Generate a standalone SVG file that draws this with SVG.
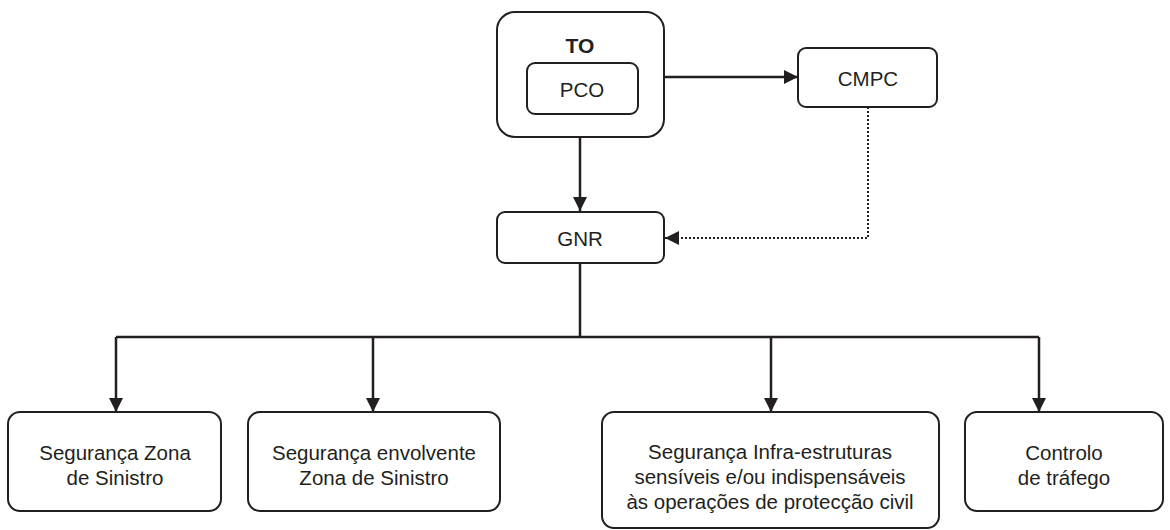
<svg xmlns="http://www.w3.org/2000/svg" width="1170" height="530" viewBox="0 0 1170 530">
<defs>
<marker id="a" viewBox="0 0 14 14" refX="14" refY="7" markerWidth="14" markerHeight="14" markerUnits="userSpaceOnUse" orient="auto">
<path d="M0,0 L14,7 L0,14 z" fill="#231f20"/>
</marker>
</defs>
<style>
.box{fill:#fff;stroke:#231f20;stroke-width:2}
.t{font-family:"Liberation Sans",Arial,sans-serif;font-size:20.5px;fill:#231f20;text-anchor:middle}
.b{font-weight:bold;font-size:21px}
.c{fill:none;stroke:#231f20;stroke-width:2.5}
.d{fill:none;stroke:#231f20;stroke-width:2;stroke-dasharray:2 2}
</style>
<rect width="1170" height="530" fill="#fff"/>
<g id="connectors">
<path class="c" d="M664,77 H798" marker-end="url(#a)"/>
<path class="c" d="M580,137 V211" marker-end="url(#a)"/>
<path class="d" d="M868,107 V238 H665" marker-end="url(#a)"/>
<path class="c" d="M580,263 V337"/>
<path class="c" d="M116,337 H1039"/>
<path class="c" d="M116,337 V412" marker-end="url(#a)"/>
<path class="c" d="M373,337 V412" marker-end="url(#a)"/>
<path class="c" d="M771,337 V412" marker-end="url(#a)"/>
<path class="c" d="M1039,337 V412" marker-end="url(#a)"/>
</g>
<g id="node-to">
<rect class="box" x="497" y="12" width="167" height="125" rx="18"/>
<text class="t b" x="580" y="53">TO</text>
</g>
<g id="node-pco">
<rect class="box" x="527" y="63" width="111" height="51" rx="8"/>
<text class="t" x="582" y="97">PCO</text>
</g>
<g id="node-cmpc">
<rect class="box" x="798" y="48" width="139" height="59" rx="8"/>
<text class="t" x="868" y="86">CMPC</text>
</g>
<g id="node-gnr">
<rect class="box" x="497" y="212" width="167" height="51" rx="8"/>
<text class="t" x="580" y="246">GNR</text>
</g>
<g id="node-seg-zona">
<rect class="box" x="8" y="412" width="213" height="99" rx="12"/>
<text class="t" x="115" y="460">Segurança Zona</text>
<text class="t" x="115" y="485">de Sinistro</text>
</g>
<g id="node-seg-envolvente">
<rect class="box" x="248" y="412" width="252" height="99" rx="12"/>
<text class="t" x="374" y="460">Segurança envolvente</text>
<text class="t" x="374" y="485">Zona de Sinistro</text>
</g>
<g id="node-seg-infra">
<rect class="box" x="602" y="412" width="337" height="116" rx="12"/>
<text class="t" x="770" y="459">Segurança Infra-estruturas</text>
<text class="t" x="770" y="484">sensíveis e/ou indispensáveis</text>
<text class="t" x="770" y="509">às operações de protecção civil</text>
</g>
<g id="node-controlo">
<rect class="box" x="965" y="412" width="198" height="99" rx="12"/>
<text class="t" x="1064" y="460">Controlo</text>
<text class="t" x="1064" y="485">de tráfego</text>
</g>
</svg>
